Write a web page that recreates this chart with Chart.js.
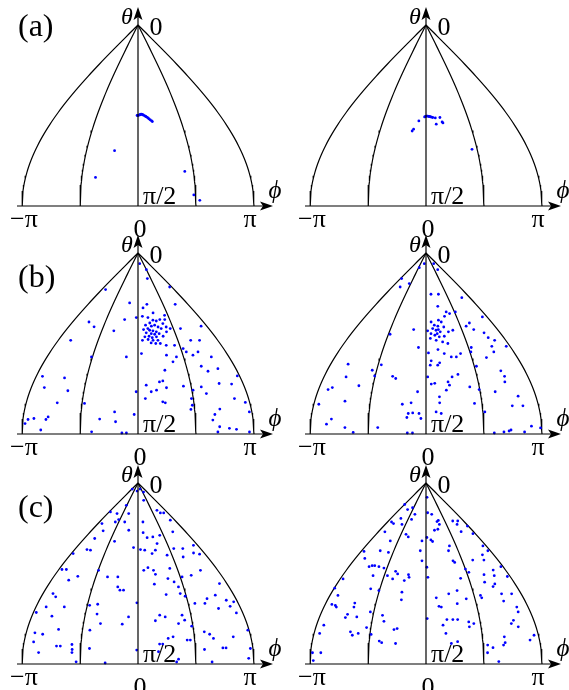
<!DOCTYPE html>
<html>
<head>
<meta charset="utf-8">
<script src="https://cdn.jsdelivr.net/npm/chart.js@4.4.1/dist/chart.umd.min.js"></script>
<style>
  html, body { margin: 0; padding: 0; background: #fff; overflow: hidden; }
  #wrap { position: relative; width: 569px; height: 690px; overflow: hidden; }
  #wrap canvas { position: absolute; }
  #fontwarm { position: absolute; left: -999px; top: 0; font-family: "Liberation Serif"; font-size: 26px; }
  #fontwarm i { font-style: italic; }
</style>
</head>
<body>
<div id="fontwarm">−π 0 π/2 (a) <i>θϕ</i></div>
<div id="wrap">
  <canvas id="aL" width="284" height="240" style="left:0;top:0"></canvas>
  <canvas id="aR" width="284" height="240" style="left:288px;top:0"></canvas>
  <canvas id="bL" width="284" height="240" style="left:0;top:228px"></canvas>
  <canvas id="bR" width="284" height="240" style="left:288px;top:228px"></canvas>
  <canvas id="cL" width="284" height="240" style="left:0;top:458px"></canvas>
  <canvas id="cR" width="284" height="240" style="left:288px;top:458px"></canvas>
</div>
<script>
// ===== data: theta (from the pole) and phi, in degrees =====
const meridianPhi = [-180, -90, 90, 180];

const aLeftTheta = [45, 45, 44.8, 44.7, 44.5, 44.3, 44.5, 44.7, 44.8, 45.2, 45.5, 45.8, 46.2, 46.7, 47.2, 47.7, 48, 62.5, 75.8, 72.8, 84.5, 87.2];
const aLeftPhi   = [-2, 0, 2, 4, 5, 7, 9, 11, 12, 15, 17, 19, 21.5, 23.5, 26, 28.7, 30, -41, -68, 76, 87, 96];

const aRightTheta = [45.7, 45.5, 45.3, 45.3, 45.5, 45.5, 45.7, 45.8, 46, 46.2, 46, 48.2, 48.7, 49.3, 47.7, 51.8, 52.7, 61.8];
const aRightPhi   = [-3, -1, 1.5, 3.6, 6, 8, 10, 12, 14.5, 20, 30, 33.5, 35, 21, -15, -24.5, -27, 81];

const bLeftTheta = [
  5.3, 8.3, 12.7, 18.2, 16.9, 24.8, 25.5, 25.5, 27.3, 32.1,
  33.1, 34.3, 36.7, 38.7, 43.4, 37.6, 36.4, 29.8, 31, 43.4,
  43.4, 31.5, 32.1, 33.4, 33.8, 33.1, 35.1, 33.1, 34.8, 35.9,
  36.4, 35.9, 36.8, 37.6, 37.6, 38.1, 38.4, 38.7, 39.2, 39.7,
  40.1, 40.4, 40.1, 41.4, 42.1, 41.7, 41.7, 43, 43.4, 43.4,
  41.4, 39.2, 44.7, 43.4, 45, 45, 36.8, 37.6, 51.7, 50,
  45.9, 45.9, 47.5, 49.2, 50.8, 49.2, 51.7, 51.7, 56.3, 58.8,
  57.5, 54.1, 51.7, 50.8, 58.3, 61.3, 62.1, 66.9, 68.5, 74.5,
  82.8, 84.8, 82.3, 81.5, 82.8, 88, 74.8, 82.6, 79, 83.9,
  80.3, 88.9, 89.5, 89.5, 69, 72.4, 69, 68.2, 64.1, 63.6,
  67, 74, 74.5, 72.4, 75.7, 77.8, 66.2, 68.2, 69.9, 66.6,
  64.9, 65.2, 61.1, 72.4, 74.3, 79, 87.7, 87.2, 86.4, 89,
  83.1, 77.6, 80.3, 89, 65.7];
const bLeftPhi = [
  28, 90, 66, -161, 169, -31, 32, 134, 17, -5,
  -38, -135, -114, -60, -152, 108, 165, 47, 80, 119,
  139, 13, 29, 42, 51, 62, 67, 76, 32, 20,
  35, 44, 52, 59, 25, 14, 29, 37, 45, 20,
  32, 40, 51, 26, 33, 43, 16, 23, 34, 45,
  59, 70, 29, 10, 39, 49, 73, 82, -23, 7,
  61, 79, 95, 99, 110, 123, 145, -92, 118, 127,
  147, 67, 76, 57, 49, -169, -129, -158, -117, -130,
  -172, -176, -163, -141, -144, -151, -86, -60, -37, -35,
  -6, -72, -25, -18, -3, 12, 22, 31, 37, 43,
  48, 40, 44, 87, 87, 84, 77, 92, 113, 107,
  139, 160, 176, 157, 173, 176, 153, 142, 127, 124,
  117, 130, 121, 173, 14];

const bRightTheta = [
  5.3, 5.3, 8.3, 7.3, 12.7, 15.2, 16.9, 20.5, 20.5, 22.2,
  26.5, 38.1, 40.4, 29.3, 31.8, 34.8, 38.1, 39.7, 42.1, 43.4,
  46.4, 36.4, 29.3, 30.1, 31.5, 33.4, 34.3, 34.3, 35.9, 36.4,
  36.8, 37.6, 38.4, 38.7, 39.2, 40.1, 40.9, 41.7, 41.4, 39.2,
  38.4, 42.5, 43.4, 44.2, 45, 38.1, 40.1, 47, 49.7, 48,
  50, 51.7, 51.7, 50, 47, 49.2, 56.3, 52, 46.4, 49.2,
  58.6, 61.3, 64.1, 69, 71.2, 76, 76, 86.1, 88, 88.5,
  89, 89, 87, 89.5, 79, 67.9, 66.6, 74.8, 60.4, 61.6,
  64.1, 65.7, 68.2, 71.5, 74.5, 79, 79.8, 54.6, 53.6, 55.8,
  55.8, 61.6, 65.2, 64.8, 69, 79.8, 79.5, 75.2, 74.5, 79.8,
  81.8, 82.3, 89.5, 89.5, 61.3, 62.4, 58.3, 61.1, 55.6, 66,
  55.3, 61.6, 73.7, 66.9, 67.9, 75.2, 82.6, 85.1, 86.8, 89.2,
  86.8];
const bRightPhi = [
  -28, 129, 126, -82, -172, -99, -138, 22, 55, 147,
  41, -31, -86, 93, 166, 118, 120, 141, 144, 155,
  172, 105, 64, 73, 55, 35, 42, 14, 22, 31,
  46, 17, 25, 4, 35, 12, 21, 31, 43, 55,
  67, 10, 23, 37, 48, 31, 27, -16, 5, 25,
  37, 50, 60, 70, 96, 92, 94, 119, 141, 139,
  136, 139, 136, 115, 151, 138, 155, 164, 132, 129,
  121, 153, 178, 106, 93, 89, 74, 78, 57, 46,
  38, 40, 34, 22, 22, 16, 24, 26, 10, 8,
  22, 3, 9, 15, -14, -11, -21, -38, -24, -28,
  -30, -8, -21, -29, -59, -53, -98, -91, -84, -114,
  -147, -141, -131, -158, -164, -172, -148, -155, -126, -113,
  -75];

const cLeftTheta = [
  3, 3, 4, 4.5, 11.1, 8.6, 13.6, 14.9, 14.9, 18.5,
  14.4, 15.2, 15.2, 19.4, 19.4, 18.2, 20.2, 23.5, 23.8, 27.6,
  29, 19.4, 24.7, 27.2, 26.8, 26, 24.3, 32.6, 32.6, 36.8,
  31, 34.8, 35.4, 30.1, 33.4, 33.4, 33.1, 35.1, 35.9, 32.1,
  33.4, 33.1, 35.1, 43.4, 46.7, 46.7, 43, 43, 48.3, 46.4,
  55, 56.6, 61.6, 61.6, 64.4, 66.2, 72.8, 74.5, 75.2, 79,
  84.3, 81.1, 81.1, 80.3, 82.8, 84.3, 88.9, 60.8, 60.3, 65.2,
  69.9, 73.2, 82.3, 89.5, 70.2, 51.7, 53.3, 53.3, 66.6, 59.6,
  83.1, 43.4, 42.1, 43.4, 45.4, 42.5, 47.5, 50.3, 55.5, 49.2,
  46.7, 51.7, 55, 56.3, 45.9, 43.4, 57.5, 55.8, 50, 58.3,
  59.1, 61.3, 62.4, 59.9, 59.9, 65.7, 68.2, 69.9, 71.2, 65.7,
  66.6, 68.5, 77.3, 80.1, 80.1, 83.9, 87.6, 89, 76.5, 74,
  82.8, 75.2, 77.3, 89, 82, 82, 76.5, 73.2, 82.3, 87.2,
  64.6, 78.1, 78.1];
const cLeftPhi = [
  -170, 60, -20, 110, -94, 59, 125, 135, 155, 158,
  -172, -124, -55, -62, -106, -96, -162, -36, -134, -145,
  -75, 23, 19, 31, 51, 77, 131, 103, 129, 117,
  167, 151, 165, 59, 49, 19, 7, 38, 77, -13,
  -134, -145, -175, -89, -65, -43, -173, -163, -144, -129,
  -161, -153, -162, -130, -175, -146, -129, -166, -153, -165,
  -155, -128, -122, -104, -103, -103, -96, -86, -72, -70,
  -62, -78, -76, -51, -26, -40, -35, -28, -16, -2,
  -2, 13, 23, 35, 38, 73, 63, 33, 53, 74,
  94, 80, 80, 88, 115, 141, 127, 145, 165, 161,
  173, 163, 141, 120, 102, 75, 78, 67, 88, 37,
  46, 29, 48, 39, 34, 32, 63, 60, 56, 107,
  104, 115, 120, 115, 133, 138, 152, 178, 176, 172,
  169, 78, 83];

const cRightTheta = [
  7.1, 10.7, 13.2, 12.3, 15.6, 17.6, 18.1, 19.4, 20.2, 20.6,
  25.5, 26.8, 24.3, 28.8, 34.5, 33.7, 34, 37.5, 41.6, 41.1,
  41.1, 41.6, 42.3, 46.1, 46.1, 43.9, 45.2, 47.7, 48.5, 46.9,
  45.6, 47.7, 52.3, 55.9, 60.4, 60.9, 61.7, 59.7, 61.7, 52.6,
  53.5, 58.1, 54.3, 64.1, 65.3, 66.6, 66.9, 71.9, 65.8, 68.8,
  72.4, 72.9, 70.7, 74.8, 74, 75.7, 74.8, 75.3, 78.6, 79.4,
  79.8, 84.4, 88.3, 84.4, 15.6, 14.8, 19.2, 18.6, 20.6, 23,
  23.5, 29.1, 27.1, 33.7, 38.7, 41.9, 46.9, 67.4, 57.1, 61.7,
  61.3, 70.7, 67.9, 55.1, 31.3, 33.7, 38.7, 39.5, 18.9, 18.9,
  20.6, 24.2, 21.4, 25.2, 31.3, 35.7, 38.3, 33.7, 38.3, 42.8,
  44.4, 47.4, 53.5, 57.6, 60, 67.9, 67.9, 78.9, 69.1, 71.5,
  69.9, 45.6, 49.3, 43.3, 46.1, 50.2, 51.5, 55.9, 57.1, 55.1,
  41.6, 46.5, 55.1, 58.7, 61.7, 64.1, 68.3, 69.9, 71.5, 78.1,
  75.7, 76.5, 79.4, 80.6, 80.6, 84.4, 81.9, 88.8, 74.8, 79.8,
  28.3, 28.8];
const cRightPhi = [
  13, -178, -125, -98, -64, -129, -72, -161, -146, -106,
  -72, -61, -155, -115, -103, -128, -172, -156, -133, -127,
  -121, -110, -97, -114, -83, -68, -62, -70, -45, -36,
  -38, -174, -179, -165, -168, -161, -158, -128, -127, -108,
  -91, -45, -46, -96, -134, -117, -136, -97, -74, -70,
  -47, -52, -168, -171, -122, -118, -109, -88, -74, -70,
  -48, -177, -175, -164, 33, 10, 52, 60, 59, 47,
  33, 21, 3, -16, -10, 2, 4, 2, 19, 27,
  23, 28, 35, 43, 70, 63, 67, 70, 128, 152,
  137, 133, 176, 171, 170, 150, 145, 173, 117, 90,
  95, 73, 60, 74, 56, 45, 53, 50, 71, 71,
  79, 126, 120, 152, 147, 139, 133, 102, 103, 143,
  175, 174, 162, 141, 160, 159, 146, 141, 151, 165,
  173, 125, 125, 122, 97, 96, 105, 113, 32, 40,
  16, -13];

// ===== projection: x = phi * sin(theta), y = theta =====
const RAD = Math.PI / 180;
const SERIF = '"Liberation Serif", "Times New Roman", Times, "DejaVu Serif", serif';

function project(phiDeg, thetaDeg) {
  const t = thetaDeg * RAD;
  return { x: phiDeg * RAD * Math.sin(t), y: t };
}

function meridianLine(phiDeg) {
  const pts = [];
  for (let t = 0; t <= 90; t += 1.5) pts.push(project(phiDeg, t));
  return pts;
}

// ===== axes, arrows and labels =====
const framePlugin = {
  id: 'frame',
  afterDatasetsDraw(chart, args, opts) {
    const { ctx, scales: { x, y } } = chart;
    const x0 = x.getPixelForValue(0);
    const xL = x.getPixelForValue(-Math.PI);
    const xR = x.getPixelForValue(Math.PI);
    const yTop = y.getPixelForValue(0);
    const yBase = y.getPixelForValue(Math.PI / 2);

    ctx.save();
    ctx.strokeStyle = '#000';
    ctx.fillStyle = '#000';
    ctx.lineWidth = 1.2;

    // phi axis
    ctx.beginPath();
    ctx.moveTo(xL - 5, yBase);
    ctx.lineTo(xR + 10, yBase);
    ctx.stroke();
    ctx.beginPath();
    ctx.moveTo(xR + 19, yBase);
    ctx.lineTo(xR + 6, yBase - 4.5);
    ctx.lineTo(xR + 9, yBase);
    ctx.lineTo(xR + 6, yBase + 4.5);
    ctx.closePath();
    ctx.fill();

    // theta axis
    ctx.beginPath();
    ctx.moveTo(x0, yBase);
    ctx.lineTo(x0, yTop - 9);
    ctx.stroke();
    ctx.beginPath();
    ctx.moveTo(x0, yTop - 18);
    ctx.lineTo(x0 - 4.5, yTop - 5);
    ctx.lineTo(x0, yTop - 8);
    ctx.lineTo(x0 + 4.5, yTop - 5);
    ctx.closePath();
    ctx.fill();

    // labels
    ctx.textBaseline = 'middle';
    ctx.textAlign = 'center';
    ctx.font = 'italic 24px ' + SERIF;
    ctx.fillText('θ', x0 - 11, yTop - 7);
    ctx.font = 'italic 25px ' + SERIF;
    ctx.fillText('ϕ', xR + 21, yBase - 15);
    ctx.font = '26px ' + SERIF;
    ctx.fillText('0', x0 + 18, yTop + 3);

    ctx.textBaseline = 'alphabetic';
    ctx.fillText('−π', xL + 2, yBase + 21);
    ctx.fillText('π', xR - 4, yBase + 21);
    ctx.fillText('0', x0 + 2, yBase + 31);
    ctx.textAlign = 'left';
    ctx.fillText('π/2', x0 + 5, yBase - 2);

    if (opts.letter) {
      ctx.font = '32px ' + SERIF;
      ctx.textBaseline = 'middle';
      ctx.fillText(opts.letter, 18, opts.letterY);
    }
    ctx.restore();
  }
};

function drawPanel(id, phi, theta, letter, letterY) {
  const dots = phi.map((p, i) => project(p, theta[i]));
  const datasets = [{
    data: dots,
    pointRadius: 1.4,
    pointHoverRadius: 1.4,
    pointBackgroundColor: '#0000ff',
    pointBorderWidth: 0,
    showLine: false,
    clip: false
  }];
  meridianPhi.forEach(m => {
    datasets.push({
      data: meridianLine(m),
      showLine: true,
      borderColor: '#000',
      borderWidth: 1.2,
      pointRadius: 0,
      tension: 0,
      clip: false
    });
  });

  new Chart(document.getElementById(id), {
    type: 'scatter',
    data: { datasets },
    options: {
      responsive: false,
      animation: false,
      events: [],
      layout: { padding: { left: 22, right: 30, top: 25, bottom: 34 } },
      scales: {
        x: { type: 'linear', min: -Math.PI, max: Math.PI, display: false },
        y: { type: 'linear', min: 0, max: Math.PI / 2, reverse: true, display: false }
      },
      plugins: {
        legend: { display: false },
        tooltip: { enabled: false },
        frame: { letter, letterY }
      }
    },
    plugins: [framePlugin]
  });
}

function drawAll() {
  drawPanel('aL', aLeftPhi, aLeftTheta, '(a)', 27.5);
  drawPanel('aR', aRightPhi, aRightTheta, null, 0);
  drawPanel('bL', bLeftPhi, bLeftTheta, '(b)', 51);
  drawPanel('bR', bRightPhi, bRightTheta, null, 0);
  drawPanel('cL', cLeftPhi, cLeftTheta, '(c)', 50.5);
  drawPanel('cR', cRightPhi, cRightTheta, null, 0);
}

if (document.fonts && document.fonts.load) {
  Promise.all([
    document.fonts.load('26px "Liberation Serif"'),
    document.fonts.load('italic 24px "Liberation Serif"')
  ]).then(drawAll, drawAll);
} else {
  drawAll();
}
</script>
</body>
</html>
